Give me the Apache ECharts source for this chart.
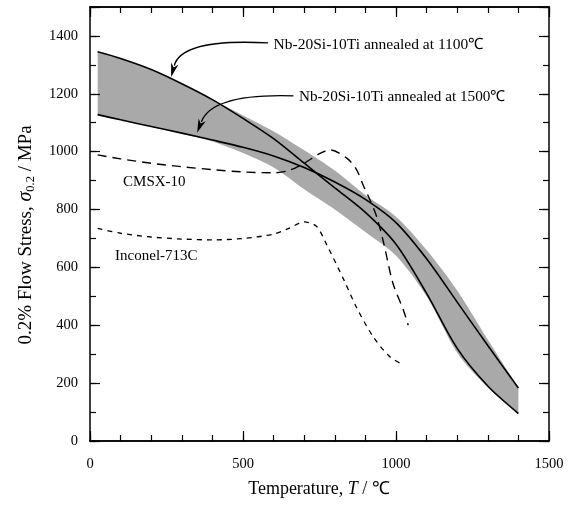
<!DOCTYPE html>
<html><head><meta charset="utf-8">
<script src="https://cdn.jsdelivr.net/npm/echarts@6/dist/echarts.min.js"></script>
<style>html,body{margin:0;padding:0;background:#fff}#c{width:569px;height:505px}</style>
</head><body><div id="c"></div>
<script>
// ---- data ----
const temps      = [25,100,200,300,400,500,600,700,800,900,1000,1100,1200,1300,1400];
const bandUpper  = [1345,1322,1284,1235,1180,1125,1070,1005,935,850,775,660,520,350,185];
const bandLower  = [1128,1110,1086,1062,1035,995,945,870,800,722,640,500,305,185,95];
const nb1100     = [1345,1322,1284,1235,1180,1115,1045,960,875,790,680,510,320,190,95];
const nb1500     = [1128,1110,1087,1064,1040,1015,985,945,895,835,755,630,480,330,183];
const cmsxT      = [25,100,200,300,400,500,600,650,700,750,785,840,870,895,915,937,960,990,1024,1040];
const cmsxS      = [989,975,960,948,938,930,927,935,960,993,1006,977,940,879,833,775,683,545,453,400];
const incT       = [25,100,200,300,400,500,600,650,700,740,775,830,870,925,980,1025];
const incS       = [735,718,705,698,695,700,715,735,757,742,675,556,464,361,291,263];
const xTicks     = [0,500,1000,1500];
const yTicks     = [0,200,400,600,800,1000,1200,1400];

const pair = (xs, ys) => xs.map((x, i) => [x, ys[i]]);
const FONT = '"Liberation Serif","Times New Roman",serif';
const SMOOTH = 0.3;

const chart = echarts.init(document.getElementById('c'), null, {renderer: 'canvas'});

const axisLineStyle = {color: '#000', width: 1.5};
function xAx(pos, showLabel, interval, len) {
  return {
    type: 'value', min: 0, max: 1500, interval: interval, position: pos, z: 10,
    axisLine: {show: true, onZero: false, lineStyle: axisLineStyle},
    axisTick: {show: true, inside: true, length: len, lineStyle: {color: '#000', width: 1.2}},
    minorTick: {show: false}, splitLine: {show: false},
    axisLabel: {show: showLabel, margin: 16, color: '#000', fontFamily: FONT, fontSize: 14.5,
      formatter: v => xTicks.indexOf(v) >= 0 ? String(v) : ''}
  };
}
function yAx(pos, showLabel, interval, len, line) {
  return {
    type: 'value', min: 0, max: 1500, interval: interval, position: pos, z: 10,
    axisLine: {show: line, onZero: false, lineStyle: axisLineStyle},
    axisTick: {show: true, inside: true, length: len, lineStyle: {color: '#000', width: 1.2}},
    minorTick: {show: false}, splitLine: {show: false},
    axisLabel: {show: showLabel, margin: 12, color: '#000', fontFamily: FONT, fontSize: 14.5,
      formatter: v => yTicks.indexOf(v) >= 0 ? String(v) : ''}
  };
}

// same smoothing rule as ECharts' own line smoothing, used for the band outline
function smoothPath(pts, moveFirst) {
  let d = (moveFirst ? 'M' : 'L') + pts[0][0] + ' ' + pts[0][1];
  const n = pts.length;
  let cp0x = pts[0][0], cp0y = pts[0][1];
  for (let i = 1; i < n; i++) {
    const p = pts[i - 1], c = pts[i], nx = pts[Math.min(i + 1, n - 1)];
    const vx = nx[0] - p[0], vy = nx[1] - p[1];
    const l0 = Math.hypot(c[0] - p[0], c[1] - p[1]), l1 = Math.hypot(nx[0] - c[0], nx[1] - c[1]);
    const r = (l0 + l1) ? l1 / (l0 + l1) : 0;
    const cp1x = c[0] - vx * SMOOTH * (1 - r), cp1y = c[1] - vy * SMOOTH * (1 - r);
    d += 'C' + cp0x + ' ' + cp0y + ' ' + cp1x + ' ' + cp1y + ' ' + c[0] + ' ' + c[1];
    cp0x = c[0] + vx * SMOOTH * r; cp0y = c[1] + vy * SMOOTH * r;
  }
  return d;
}

const lineBase = {type: 'line', showSymbol: false, symbol: 'none', smooth: SMOOTH,
  xAxisIndex: 0, yAxisIndex: 0, silent: true, animation: false};

const option = {
  animation: false,
  backgroundColor: '#fff',
  grid: {left: 90, right: 20, top: 7, bottom: 64, containLabel: false},
  xAxis: [xAx('bottom', true, 500, 10), xAx('top', false, 500, 10),
          xAx('bottom', false, 100, 6), xAx('top', false, 100, 6)],
  yAxis: [yAx('left', true, 200, 10, true), yAx('right', false, 200, 10, true),
          yAx('left', false, 100, 6, false), yAx('right', false, 100, 6, false)],
  series: [
    {type: 'custom', name: 'band', xAxisIndex: 0, yAxisIndex: 0, silent: true, z: 1,
      data: [[temps[0], bandUpper[0]]],
      renderItem: function (params, api) {
        const up = temps.map((t, i) => api.coord([t, bandUpper[i]]));
        const lo = temps.map((t, i) => api.coord([t, bandLower[i]])).reverse();
        const d = smoothPath(up, true) + smoothPath(lo, false) + 'Z';
        return {type: 'path', shape: {pathData: d}, style: {fill: '#a9a9a9', stroke: null}};
      }},
    Object.assign({}, lineBase, {name: 'Nb-20Si-10Ti annealed at 1100℃', data: pair(temps, nb1100),
      lineStyle: {color: '#000', width: 1.6}, z: 4}),
    Object.assign({}, lineBase, {name: 'Nb-20Si-10Ti annealed at 1500℃', data: pair(temps, nb1500),
      lineStyle: {color: '#000', width: 1.6}, z: 4}),
    Object.assign({}, lineBase, {name: 'CMSX-10', data: pair(cmsxT, cmsxS),
      lineStyle: {color: '#000', width: 1.4, type: [9, 6]}, z: 3}),
    Object.assign({}, lineBase, {name: 'Inconel-713C', data: pair(incT, incS),
      lineStyle: {color: '#000', width: 1.3, type: [5, 5]}, z: 3})
  ]
};
chart.setOption(option);

// ---- annotations, anchored in data coordinates ----
const P = (t, s) => chart.convertToPixel({xAxisIndex: 0, yAxisIndex: 0}, [t, s]);
function arrow(start, ctrl, tip) {
  const a = P(start[0], start[1]), c = P(ctrl[0], ctrl[1]), b = P(tip[0], tip[1]);
  const dx = b[0] - c[0], dy = b[1] - c[1], L = Math.hypot(dx, dy);
  const ux = dx / L, uy = dy / L, hl = 14, hw = 3.8;
  const bx = b[0] - ux * hl, by = b[1] - uy * hl;
  const endx = b[0] - ux * (hl - 2), endy = b[1] - uy * (hl - 2);
  return [
    {type: 'bezierCurve', shape: {x1: a[0], y1: a[1], cpx1: c[0], cpy1: c[1], x2: endx, y2: endy},
      style: {stroke: '#000', lineWidth: 1.4, fill: null}, z: 10},
    {type: 'polygon', shape: {points: [[b[0], b[1]], [bx - uy * hw, by + ux * hw], [b[0] - ux * (hl - 4), b[1] - uy * (hl - 4)], [bx + uy * hw, by - ux * hw]]},
      style: {fill: '#000'}, z: 10}
  ];
}
function label(t, s, text, size) {
  const p = P(t, s);
  return {type: 'text', x: p[0], y: p[1], z: 10,
    style: {text: text, fill: '#000', font: (size || 15) + 'px ' + FONT, align: 'left', verticalAlign: 'middle'}};
}
const g = [];
g.push(...arrow([582, 1376], [300, 1392], [265, 1258]));
g.push(...arrow([665, 1193], [400, 1202], [350, 1065]));
g.push(label(600, 1370, 'Nb-20Si-10Ti annealed at 1100℃', 15.5));
g.push(label(683, 1190, 'Nb-20Si-10Ti annealed at 1500℃', 15.2));
g.push(label(108, 895, 'CMSX-10', 15));
g.push(label(82, 638, 'Inconel-713C', 15));
// axis titles
g.push({type: 'text', x: 319, y: 489, z: 10,
  style: {text: 'Temperature, {i|T} / ℃', font: '18px ' + FONT, fill: '#000', align: 'center', verticalAlign: 'middle',
    rich: {i: {font: 'italic 18px ' + FONT, fill: '#000'}}}});
g.push({type: 'text', x: 26, y: 235, rotation: Math.PI / 2, z: 10,
  style: {text: '0.2% Flow Stress, {i|σ}{s|0.2} / MPa', font: '19px ' + FONT, fill: '#000', align: 'center', verticalAlign: 'middle',
    rich: {i: {font: 'italic 20px ' + FONT, fill: '#000', lineHeight: 23},
           s: {font: '12.5px ' + FONT, fill: '#000', verticalAlign: 'bottom', lineHeight: 12, padding: [8, 0, 0, 0]}}}});
chart.setOption({graphic: {elements: g}});
</script>
</body></html>
